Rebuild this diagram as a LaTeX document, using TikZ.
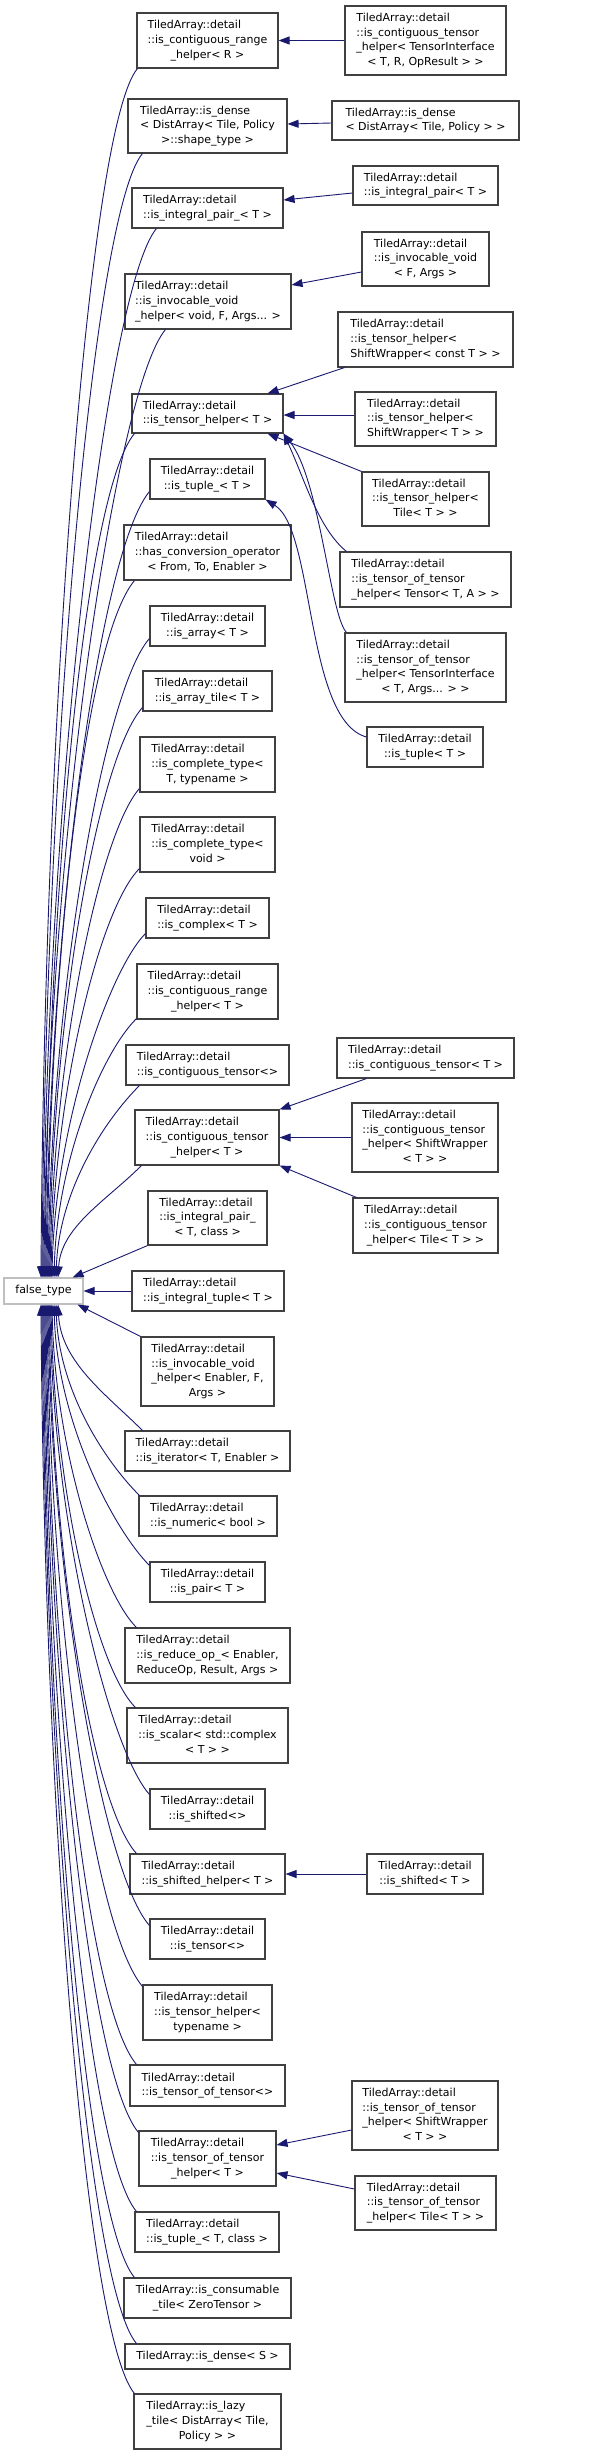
\documentclass[tikz,border=0pt]{standalone}
\usepackage{fontspec}
\setmainfont{DejaVu Sans}
\usetikzlibrary{arrows.meta}
\definecolor{edgeblue}{HTML}{191970}
\definecolor{boxgray}{HTML}{404040}
\definecolor{ftgray}{HTML}{BFBFBF}
\newcommand\tb[1]{\begin{tabular}{@{}l@{}}#1\end{tabular}}
\newcommand\LL[1]{\multicolumn{1}{@{}c@{}}{#1}}
\newcommand\bx[7][box]{\node[#1,minimum width={#5-#3},minimum height={#6-#4}] (#2) at ({(#3+#5)/2},{(#4+#6)/2}) {#7};}
\tikzset{
  box/.style={draw=boxgray, line width=1.1pt, fill=white, inner sep=0pt,
    font=\fontsize{11pt}{14.8pt}\selectfont, text=black},
  ftbox/.style={box, draw=ftgray},
  edge/.style={draw=edgeblue, line width=0.9pt, -{Triangle[length=11pt,width=8pt]}}
}
\begin{document}
\begin{tikzpicture}[x=1pt,y=-1pt]
\fill[white] (0,0) rectangle (605,2455);
\useasboundingbox (0,0) rectangle (605,2455);

\bx{A1}{137}{13}{278}{68}{\tb{TiledArray::detail\\::is\_contiguous\_range\\\LL{\_helper< R >}}}
\bx{B1}{345}{6}{506}{75}{\tb{TiledArray::detail\\::is\_contiguous\_tensor\\\_helper< TensorInterface\\\LL{< T, R, OpResult > >}}}
\bx{A2}{128}{99}{287}{153}{\tb{TiledArray::is\_dense\\< DistArray< Tile, Policy\\\LL{>::shape\_type >}}}
\bx{B2}{332}{101}{519}{140}{\tb{TiledArray::is\_dense\\\LL{< DistArray< Tile, Policy > >}}}
\bx{A3}{132}{188}{283}{228}{\tb{TiledArray::detail\\\LL{::is\_integral\_pair\_< T >}}}
\bx{B3}{353}{166}{498}{205}{\tb{TiledArray::detail\\\LL{::is\_integral\_pair< T >}}}
\bx{A4}{125}{274}{291}{329}{\tb{TiledArray::detail\\::is\_invocable\_void\\\LL{\_helper< void, F, Args... >}}}
\bx{B4}{362}{232}{489}{286}{\tb{TiledArray::detail\\::is\_invocable\_void\\\LL{< F, Args >}}}
\bx{B5}{338}{312}{513}{367}{\tb{TiledArray::detail\\::is\_tensor\_helper<\\\LL{ShiftWrapper< const T > >}}}
\bx{A5}{132}{394}{283}{433}{\tb{TiledArray::detail\\\LL{::is\_tensor\_helper< T >}}}
\bx{B6}{355}{392}{496}{446}{\tb{TiledArray::detail\\::is\_tensor\_helper<\\\LL{ShiftWrapper< T > >}}}
\bx{A6}{150}{459}{265}{499}{\tb{TiledArray::detail\\\LL{::is\_tuple\_< T >}}}
\bx{B7}{362}{472}{489}{526}{\tb{TiledArray::detail\\::is\_tensor\_helper<\\\LL{Tile< T > >}}}
\bx{A7}{124}{525}{291}{580}{\tb{TiledArray::detail\\::has\_conversion\_operator\\\LL{< From, To, Enabler >}}}
\bx{B8}{340}{552}{511}{607}{\tb{TiledArray::detail\\::is\_tensor\_of\_tensor\\\LL{\_helper< Tensor< T, A > >}}}
\bx{A8}{150}{606}{265}{646}{\tb{TiledArray::detail\\\LL{::is\_array< T >}}}
\bx{B9}{345}{633}{506}{702}{\tb{TiledArray::detail\\::is\_tensor\_of\_tensor\\\_helper< TensorInterface\\\LL{< T, Args... > >}}}
\bx{A9}{143}{671}{272}{711}{\tb{TiledArray::detail\\\LL{::is\_array\_tile< T >}}}
\bx{B10}{367}{727}{483}{767}{\tb{TiledArray::detail\\\LL{::is\_tuple< T >}}}
\bx{A10}{140}{737}{275}{792}{\tb{TiledArray::detail\\::is\_complete\_type<\\\LL{T, typename >}}}
\bx{A11}{140}{817}{275}{872}{\tb{TiledArray::detail\\::is\_complete\_type<\\\LL{void >}}}
\bx{A12}{146}{898}{269}{938}{\tb{TiledArray::detail\\\LL{::is\_complex< T >}}}
\bx{A13}{137}{964}{278}{1019}{\tb{TiledArray::detail\\::is\_contiguous\_range\\\LL{\_helper< T >}}}
\bx{A14}{126}{1045}{289}{1085}{\tb{TiledArray::detail\\\LL{::is\_contiguous\_tensor<>}}}
\bx{B11}{337}{1038}{514}{1078}{\tb{TiledArray::detail\\\LL{::is\_contiguous\_tensor< T >}}}
\bx{A15}{135}{1110}{279}{1165}{\tb{TiledArray::detail\\::is\_contiguous\_tensor\\\LL{\_helper< T >}}}
\bx{B12}{352}{1103}{498}{1172}{\tb{TiledArray::detail\\::is\_contiguous\_tensor\\\_helper< ShiftWrapper\\\LL{< T > >}}}
\bx{A16}{148}{1191}{267}{1245}{\tb{TiledArray::detail\\::is\_integral\_pair\_\\\LL{< T, class >}}}
\bx{B13}{353}{1198}{498}{1253}{\tb{TiledArray::detail\\::is\_contiguous\_tensor\\\LL{\_helper< Tile< T > >}}}
\bx[ftbox]{ft}{4}{1278}{83}{1304}{false\_type}
\bx{A17}{132}{1271}{284}{1311}{\tb{TiledArray::detail\\\LL{::is\_integral\_tuple< T >}}}
\bx{A18}{141}{1337}{274}{1406}{\tb{TiledArray::detail\\::is\_invocable\_void\\\_helper< Enabler, F,\\\LL{Args >}}}
\bx{A19}{125}{1431}{290}{1471}{\tb{TiledArray::detail\\\LL{::is\_iterator< T, Enabler >}}}
\bx{A20}{139}{1496}{277}{1536}{\tb{TiledArray::detail\\\LL{::is\_numeric< bool >}}}
\bx{A21}{150}{1562}{265}{1602}{\tb{TiledArray::detail\\\LL{::is\_pair< T >}}}
\bx{A22}{125}{1628}{290}{1683}{\tb{TiledArray::detail\\::is\_reduce\_op\_< Enabler,\\\LL{ReduceOp, Result, Args >}}}
\bx{A23}{127}{1708}{288}{1763}{\tb{TiledArray::detail\\::is\_scalar< std::complex\\\LL{< T > >}}}
\bx{A24}{150}{1789}{265}{1829}{\tb{TiledArray::detail\\\LL{::is\_shifted<>}}}
\bx{A25}{130}{1854}{285}{1894}{\tb{TiledArray::detail\\\LL{::is\_shifted\_helper< T >}}}
\bx{B14}{367}{1854}{483}{1894}{\tb{TiledArray::detail\\\LL{::is\_shifted< T >}}}
\bx{A26}{150}{1919}{265}{1959}{\tb{TiledArray::detail\\\LL{::is\_tensor<>}}}
\bx{A27}{143}{1985}{272}{2040}{\tb{TiledArray::detail\\::is\_tensor\_helper<\\\LL{typename >}}}
\bx{A28}{130}{2065}{285}{2106}{\tb{TiledArray::detail\\\LL{::is\_tensor\_of\_tensor<>}}}
\bx{A29}{139}{2131}{276}{2186}{\tb{TiledArray::detail\\::is\_tensor\_of\_tensor\\\LL{\_helper< T >}}}
\bx{B15}{352}{2081}{498}{2150}{\tb{TiledArray::detail\\::is\_tensor\_of\_tensor\\\_helper< ShiftWrapper\\\LL{< T > >}}}
\bx{B16}{355}{2176}{496}{2230}{\tb{TiledArray::detail\\::is\_tensor\_of\_tensor\\\LL{\_helper< Tile< T > >}}}
\bx{A30}{135}{2212}{279}{2252}{\tb{TiledArray::detail\\\LL{::is\_tuple\_< T, class >}}}
\bx{A31}{124}{2278}{291}{2318}{\tb{TiledArray::is\_consumable\\\LL{\_tile< ZeroTensor >}}}
\bx{A32}{125}{2344}{290}{2369}{TiledArray::is\_dense< S >}
\bx{A33}{134}{2394}{281}{2449}{\tb{TiledArray::is\_lazy\\\_tile< DistArray< Tile,\\\LL{Policy > >}}}

% right-hand derived classes
\draw[edge] (B1.west) -- (A1.east);
\draw[edge] ([yshift=-2.5pt]B2.west) -- ([yshift=2pt]A2.east);
\draw[edge] ([yshift=-7.5pt]B3.west) -- ([yshift=8pt]A3.east);
\draw[edge] ([yshift=-13pt]B4.west) -- ([yshift=16.5pt]A4.east);
\draw[edge] ([xshift=7pt]B5.south west) -- ([xshift=-16pt]A5.north east);
\draw[edge] ([yshift=4pt]B6.west) -- ([yshift=-1.5pt]A5.east);
\draw[edge] (B7.north west) -- ([xshift=-16pt]A5.south east);
\draw[edge] ([xshift=7pt]B8.north west) .. controls (318,528) and (305,480) .. (A5.south east);
\draw[edge] ([xshift=2pt]B9.north west) .. controls (330,615) and (320,480) .. (A5.south east);
\draw[edge] ([yshift=10pt]B10.west) .. controls (305,720) and (315,530) .. (A6.south east);
\draw[edge] ([xshift=30pt]B11.south west) -- (A15.north east);
\draw[edge] (B12.west) -- (A15.east);
\draw[edge] ([xshift=4pt]B13.north west) -- (A15.south east);
\draw[edge] (B14.west) -- (A25.east);
\draw[edge] ([yshift=-14.5pt]B15.west) -- ([yshift=13.5pt]A29.east);
\draw[edge] ([yshift=14pt]B16.west) -- ([yshift=-14.5pt]A29.east);

% edges into false_type from above
\draw[edge] ([xshift=1pt]A1.south west) .. controls +(-50,60) and +(3,-545) .. ([xshift=-2.5pt]ft.north);
\draw[edge] ([xshift=15pt]A2.south west) .. controls +(-50,60) and +(3,-506) .. ([xshift=-1.5pt]ft.north);
\draw[edge] ([xshift=25pt]A3.south west) .. controls +(-50,60) and +(3,-472) .. ([xshift=-0.5pt]ft.north);
\draw[edge] ([xshift=41pt]A4.south west) .. controls +(-50,60) and +(3,-427) .. ([xshift=0.5pt]ft.north);
\draw[edge] ([xshift=3pt]A5.south west) .. controls +(-50,60) and +(3,-380) .. ([xshift=1.5pt]ft.north);
\draw[edge] ([yshift=8pt]A6.south west) .. controls +(-50,60) and +(3,-354) .. ([xshift=2.5pt]ft.north);
\draw[edge] ([xshift=11pt]A7.south west) .. controls +(-50,60) and +(3,-314) .. ([xshift=3.5pt]ft.north);
\draw[edge] ([yshift=8pt]A8.south west) .. controls +(-45,50) and +(3,-288) .. ([xshift=4.5pt]ft.north);
\draw[edge] ([yshift=4pt]A9.south west) .. controls +(-45,50) and +(3,-257) .. ([xshift=5.5pt]ft.north);
\draw[edge] ([yshift=4pt]A10.south west) .. controls +(-40,45) and +(3,-220) .. ([xshift=6.5pt]ft.north);
\draw[edge] ([yshift=4pt]A11.south west) .. controls +(-40,40) and +(3,-184) .. ([xshift=7.5pt]ft.north);
\draw[edge] ([yshift=5pt]A12.south west) .. controls +(-35,35) and +(3,-155) .. ([xshift=8.5pt]ft.north);
\draw[edge] ([yshift=1pt]A13.south west) .. controls +(-35,35) and +(3,-117) .. ([xshift=10.5pt]ft.north);
\draw[edge] ([xshift=14pt]A14.south west) .. controls +(-35,35) and +(3,-87) .. ([xshift=12.5pt]ft.north);
\draw[edge] ([xshift=7pt]A15.south west) .. controls +(-35,35) and +(3,-51) .. ([xshift=14.5pt]ft.north);
\draw[edge] (A16.south west) -- ([xshift=-11pt]ft.north east);
\draw[edge] (A17.west) -- (ft.east);
\draw[edge] (A18.north west) -- ([xshift=-6pt]ft.south east);

% edges into false_type from below
\draw[edge] ([xshift=18pt]A19.north west) .. controls +(-35,-35) and +(3,58) .. ([xshift=14.5pt]ft.south);
\draw[edge] ([xshift=1pt]A20.north west) .. controls +(-35,-35) and +(3,86) .. ([xshift=12.5pt]ft.south);
\draw[edge] ([yshift=-4pt]A21.north west) .. controls +(-35,-35) and +(3,118) .. ([xshift=10.5pt]ft.south);
\draw[edge] ([xshift=12pt]A22.north west) .. controls +(-35,-35) and +(3,146) .. ([xshift=8.5pt]ft.south);
\draw[edge] ([xshift=9pt]A23.north west) .. controls +(-40,-40) and +(3,182) .. ([xshift=7.5pt]ft.south);
\draw[edge] ([yshift=-6pt]A24.north west) .. controls +(-40,-45) and +(3,221) .. ([xshift=6.5pt]ft.south);
\draw[edge] ([xshift=7pt]A25.north west) .. controls +(-45,-50) and +(3,248) .. ([xshift=5.5pt]ft.south);
\draw[edge] ([yshift=-7pt]A26.north west) .. controls +(-45,-50) and +(3,280) .. ([xshift=4.5pt]ft.south);
\draw[edge] ([yshift=-2pt]A27.north west) .. controls +(-50,-60) and +(3,307) .. ([xshift=3.5pt]ft.south);
\draw[edge] ([xshift=7pt]A28.north west) .. controls +(-50,-60) and +(3,342) .. ([xshift=2.5pt]ft.south);
\draw[edge] ([yshift=-2pt]A29.north west) .. controls +(-50,-60) and +(3,373) .. ([xshift=1.5pt]ft.south);
\draw[edge] ([xshift=2pt]A30.north west) .. controls +(-50,-60) and +(3,409) .. ([xshift=0.5pt]ft.south);
\draw[edge] ([xshift=11pt]A31.north west) .. controls +(-50,-60) and +(3,438) .. ([xshift=-0.5pt]ft.south);
\draw[edge] ([xshift=12pt]A32.north west) .. controls +(-50,-60) and +(3,468) .. ([xshift=-1.5pt]ft.south);
\draw[edge] ([xshift=1pt]A33.north west) .. controls +(-50,-60) and +(3,490) .. ([xshift=-2.5pt]ft.south);
\end{tikzpicture}
\end{document}
